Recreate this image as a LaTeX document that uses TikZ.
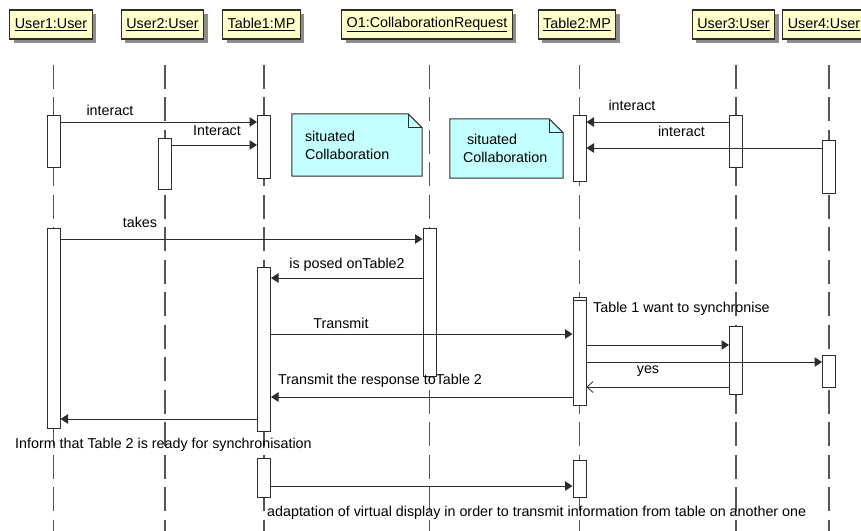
\documentclass[tikz,border=0pt]{standalone}
\usepackage{fontspec}
\setmainfont{Liberation Sans}
\usepackage{tikz}
\usetikzlibrary{arrows.meta, shadows, backgrounds}

\definecolor{headfill}{RGB}{255,255,204}
\definecolor{notefill}{RGB}{196,255,255}
\definecolor{linegray}{RGB}{45,45,45}
\definecolor{lifegray}{RGB}{85,85,85}

\begin{document}
\begin{tikzpicture}[x=1pt, y=-1pt,
    every node/.style={font=\fontsize{14.3}{18}\selectfont},
    head/.style={draw=linegray, line width=1.2pt, fill=headfill, minimum height=29pt, inner xsep=5pt, inner ysep=0pt,
        drop shadow={shadow xshift=4pt, shadow yshift=-4pt, fill=black!45, opacity=1}},
    life/.style={lifegray, line width=1.3pt, dash pattern=on 24pt off 8.5pt},
    act/.style={draw=linegray, fill=white, line width=1pt, minimum width=13pt, inner sep=0pt},
    msg/.style={linegray, line width=1pt, -{Triangle[length=7.5pt, width=9.5pt]}},
    reply/.style={linegray, line width=1pt, -{Straight Barb[length=6pt, width=11pt, line width=0.8pt]}},
    lbl/.style={inner sep=0pt, anchor=base},
    note/.style={inner xsep=13pt, inner ysep=0pt, align=left}]

    \useasboundingbox (0,0) rectangle (861,530);

    % objects
    \node[head] (user1) at (51,24.5) {\underline{User1:User}};
    \node[head] (user2) at (162.5,24.5) {\underline{User2:User}};
    \node[head] (table1) at (261.5,24.5) {\underline{Table1:MP}};
    \node[head] (o1) at (427,24.5) {\underline{O1:CollaborationRequest}};
    \node[head] (table2) at (577,24.5) {\underline{Table2:MP}};
    \node[head] (user3) at (733.5,24.5) {\underline{User3:User}};
    \node[head] (user4) at (824,24.5) {\underline{User4:User}};

    % lifelines
    \foreach \h/\s in {user1/2.5, user2/2.5, table1/2.5, o1/2.5, table2/2.5, user3/2.5, user4/5}
        \draw[life] ([xshift=\s pt, yshift=-25pt]\h.south) -- ++(0,466);

    % activations
    \node[act, minimum height=52pt] (u1a1) at (53.5,141) {};
    \node[act, minimum height=51pt] (u2a1) at (165,163.5) {};
    \node[act, minimum height=63pt] (t1a1) at (264,146.5) {};
    \node[act, minimum height=66pt] (t2a1) at (579.5,148) {};
    \node[act, minimum height=52pt] (u3a1) at (736,141) {};
    \node[act, minimum height=53pt] (u4a1) at (829,166.5) {};
    \node[act, minimum height=200pt] (u1a2) at (53.5,328) {};
    \node[act, minimum height=148pt] (o1a) at (429.5,302) {};
    \node[act, minimum height=164pt] (t1a2) at (264,349) {};
    \node[act, minimum height=108pt] (t2a2) at (579.5,351) {};
    \node[act, minimum height=105pt] (t2a2b) at (579.5,352.5) {};
    \node[act, minimum height=68pt] (u3a2) at (736,360) {};
    \node[act, minimum height=32pt] (u4a2) at (829,371) {};
    \node[act, minimum height=39pt] (t1a3) at (264,477.5) {};
    \node[act, minimum height=37pt] (t2a3) at (579.5,478.5) {};

    % notes
    \node[note, text width=104pt, minimum height=62pt] (note1) at (357,145) {situated\\Collaboration};
    \node[note, text width=87pt, minimum height=59pt] (note2) at (506.5,148.5) {\hspace{4pt}situated\\Collaboration};
    \begin{scope}[on background layer]
        \foreach \n in {note1, note2} {
            \filldraw[fill=notefill, draw=linegray, line width=1pt] (\n.north west) -- ([xshift=-14pt]\n.north east)
                -- ([yshift=-14pt]\n.north east) -- (\n.south east) -- (\n.south west) -- cycle;
            \draw[linegray, line width=1pt] ([xshift=-14pt]\n.north east) |- ([yshift=-14pt]\n.north east);
        }
    \end{scope}

    % messages
    \draw[msg] (u1a1.east |- 0,122) -- (t1a1.west |- 0,122);
    \draw[msg] (u2a1.east |- 0,145) -- (t1a1.west |- 0,145);
    \draw[msg] (u3a1.west |- 0,122) -- (t2a1.east |- 0,122);
    \draw[msg] (u4a1.west |- 0,148) -- (t2a1.east |- 0,148);
    \draw[msg] (u1a2.east |- 0,239) -- (o1a.west |- 0,239);
    \draw[msg] (o1a.west |- 0,278) -- (t1a2.east |- 0,278);
    \draw[msg] (t1a2.east |- 0,334) -- (t2a2.west |- 0,334);
    \draw[msg] (t2a2.east |- 0,345) -- (u3a2.west |- 0,345);
    \draw[msg] (t2a2.east |- 0,362) -- (u4a2.west |- 0,362);
    \draw[reply] (u3a2.west |- 0,387) -- (t2a2.east |- 0,387);
    \draw[msg] (t2a2.west |- 0,397) -- (t1a2.east |- 0,397);
    \draw[msg] (t1a2.west |- 0,419) -- (u1a2.east |- 0,419);
    \draw[msg] (t1a3.east |- 0,486) -- (t2a3.west |- 0,486);

    % labels
    \node[lbl] (l1) at (110,115) {interact};
    \node[lbl] (l2) at (217,135) {Interact};
    \node[lbl] (l3) at (632,110.7) {interact};
    \node[lbl] (l4) at (681.5,136.7) {interact};
    \node[lbl] (l5) at (140,227.5) {takes};
    \node[lbl] (l6) at (347,268.5) {is posed onTable2};
    \node[lbl] (l7) at (341,328.5) {Transmit};
    \node[lbl, anchor=base west] (l8) at (593,312.5) {Table 1 want to synchronise};
    \node[lbl] (l9) at (648,373.5) {yes};
    \node[lbl, anchor=base west] (l10) at (278,384.5) {Transmit the response toTable 2};
    \node[lbl, anchor=base west] (l11) at (15,448.5) {Inform that Table 2 is ready for synchronisation};
    \node[lbl, anchor=base west] (l12) at (267,516) {adaptation of virtual display in order to transmit information from table on another one};
\end{tikzpicture}
\end{document}
